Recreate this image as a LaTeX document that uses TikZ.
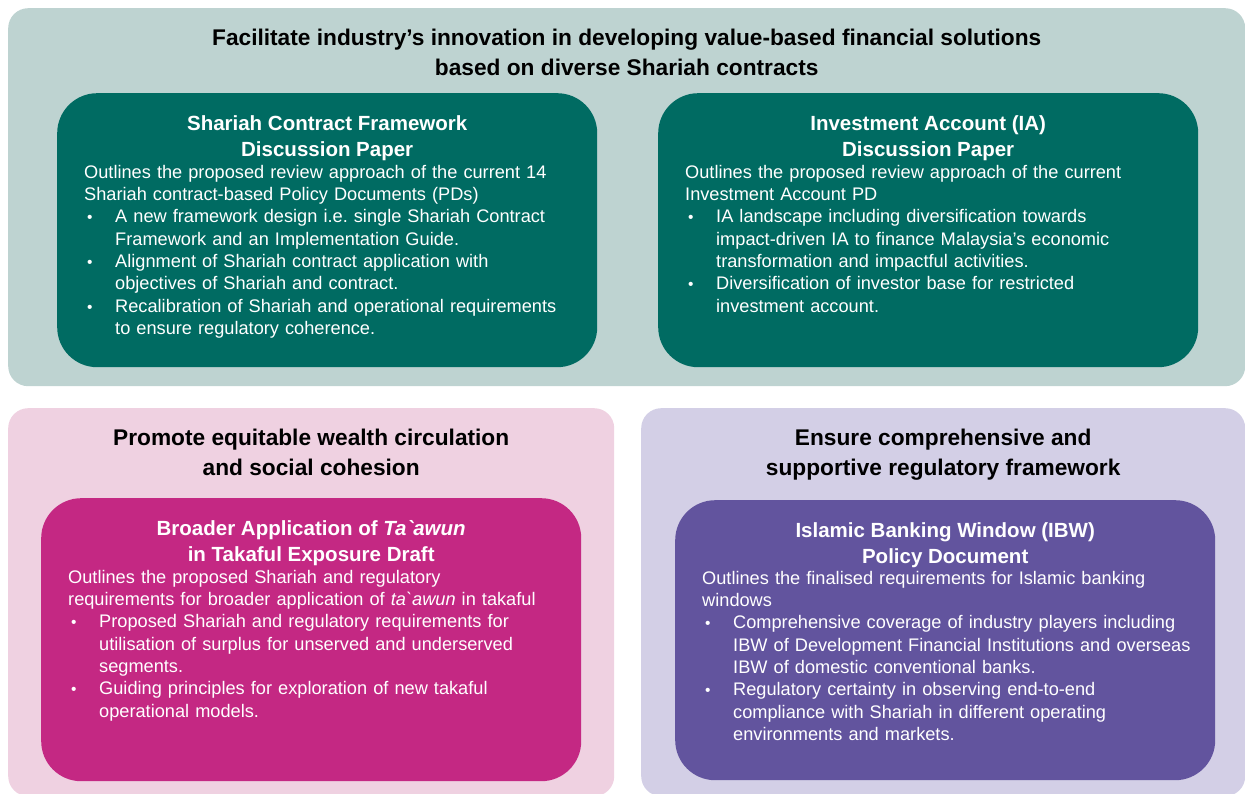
\documentclass[tikz,border=0pt]{standalone}
\usepackage{fontspec}
\setmainfont{Liberation Sans}
\usetikzlibrary{positioning}
\definecolor{sage}{HTML}{BED3D1}
\definecolor{teal_dark}{HTML}{006B62}
\definecolor{pink_light}{HTML}{EFD1E1}
\definecolor{magenta_dark}{HTML}{C42883}
\definecolor{lavender}{HTML}{D3CFE6}
\definecolor{purple_dark}{HTML}{62549E}
\newcommand*{\bul}{\par\hangindent=31pt\hangafter=1\noindent\makebox[31pt][l]{\hspace{3pt}\scalebox{0.85}{\textbullet}}}

\begin{document}
\begin{tikzpicture}[x=1pt, y=-1pt,
    panel/.style ={rectangle, rounded corners=20pt, draw=none, anchor=north west,
      inner sep=0pt},
    block/.style ={rectangle, rounded corners=40pt, draw=none, anchor=north west,
      inner sep=0pt, minimum width=540pt},
    heading/.style ={text=black, align=center, inner sep=0pt,
      font=\fontsize{22.7}{30}\selectfont\bfseries},
    block_title/.style ={text=white, align=center, inner sep=0pt,
      font=\fontsize{20.5}{26}\selectfont\bfseries},
    block_text/.style ={text=white, text width=540pt, inner sep=0pt,
      anchor=north west, font=\fontsize{18.2}{22.3}\selectfont\raggedright}]
    \useasboundingbox (0,0) rectangle (1245,794);
    % top panel
    \node [panel, fill=sage, minimum width=1237pt, minimum height=378pt] (innovation) at (8,8) {};
    \node [heading, below=21pt of innovation.north] (innovation_head)
      {Facilitate industry's innovation in developing value-based financial solutions\\
       based on diverse Shariah contracts};
    \node [block, fill=teal_dark, minimum height=274pt] (contract) at (57,93) {};
    \node [block_title, below=22pt of contract.north] (contract_title)
      {Shariah Contract Framework\\Discussion Paper};
    \node [block_text] (contract_text) at ([xshift=27pt, yshift=-72pt]contract.north west) {
      Outlines the proposed review approach of the current 14\newline
      Shariah contract-based Policy Documents (PDs)
      \bul A new framework design i.e.\ single Shariah Contract\newline
      Framework and an Implementation Guide.
      \bul Alignment of Shariah contract application with\newline
      objectives of Shariah and contract.
      \bul Recalibration of Shariah and operational requirements\newline
      to ensure regulatory coherence.\par};
    \node [block, fill=teal_dark, minimum height=274pt] (account) at (658,93) {};
    \node [block_title, below=22pt of account.north] (account_title)
      {Investment Account (IA)\\Discussion Paper};
    \node [block_text] (account_text) at ([xshift=27pt, yshift=-72pt]account.north west) {
      Outlines the proposed review approach of the current\newline
      Investment Account PD
      \bul IA landscape including diversification towards\newline
      impact-driven IA to finance Malaysia's economic\newline
      transformation and impactful activities.
      \bul Diversification of investor base for restricted\newline
      investment account.\par};
    % bottom left panel
    \node [panel, fill=pink_light, minimum width=606pt, minimum height=388pt] (wealth) at (8,408) {};
    \node [heading, below=21pt of wealth.north] (wealth_head)
      {Promote equitable wealth circulation\\and social cohesion};
    \node [block, fill=magenta_dark, minimum height=283pt] (tawun) at (41,498) {};
    \node [block_title, below=22pt of tawun.north] (tawun_title)
      {Broader Application of \textit{Ta\textasciigrave awun}\\in Takaful Exposure Draft};
    \node [block_text] (tawun_text) at ([xshift=27pt, yshift=-72pt]tawun.north west) {
      Outlines the proposed Shariah and regulatory\newline
      requirements for broader application of \textit{ta\textasciigrave awun} in takaful
      \bul Proposed Shariah and regulatory requirements for\newline
      utilisation of surplus for unserved and underserved\newline
      segments.
      \bul Guiding principles for exploration of new takaful\newline
      operational models.\par};
    % bottom right panel
    \node [panel, fill=lavender, minimum width=604pt, minimum height=388pt] (regulatory) at (641,408) {};
    \node [heading, below=21pt of regulatory.north] (regulatory_head)
      {Ensure comprehensive and\\supportive regulatory framework};
    \node [block, fill=purple_dark, minimum height=280pt] (window) at (675,500) {};
    \node [block_title, below=22pt of window.north] (window_title)
      {Islamic Banking Window (IBW)\\Policy Document};
    \node [block_text] (window_text) at ([xshift=27pt, yshift=-71pt]window.north west) {
      Outlines the finalised requirements for Islamic banking\newline
      windows
      \bul Comprehensive coverage of industry players including\newline
      IBW of Development Financial Institutions and overseas\newline
      IBW of domestic conventional banks.
      \bul Regulatory certainty in observing end-to-end\newline
      compliance with Shariah in different operating\newline
      environments and markets.\par};
\end{tikzpicture}
\end{document}
